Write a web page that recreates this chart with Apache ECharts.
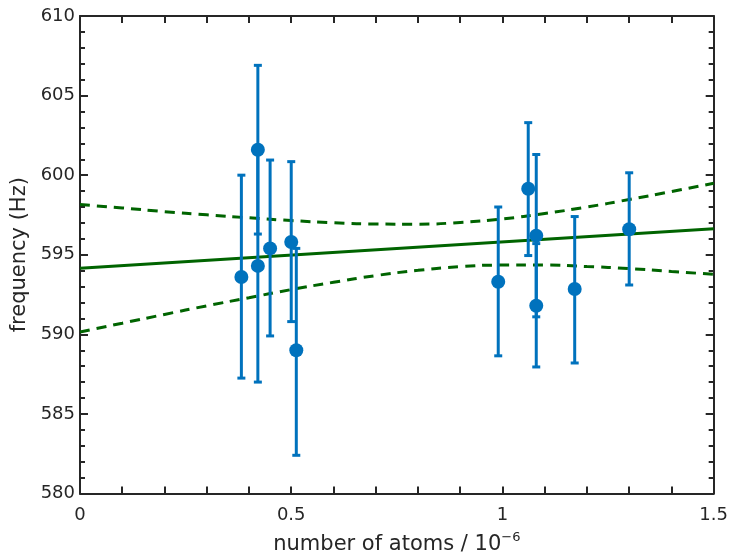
<!DOCTYPE html>
<html>
<head>
<meta charset="utf-8">
<script src="https://cdn.jsdelivr.net/npm/echarts@6/dist/echarts.min.js"></script>
<style>html,body{margin:0;padding:0;background:#fff}#c{width:731px;height:560px}</style>
</head>
<body>
<div id="c"></div>
<script>
// measured points
var atoms = [0.382, 0.421, 0.421, 0.450, 0.500, 0.512, 0.990, 1.061, 1.080, 1.080, 1.171, 1.300];
var freq  = [593.6, 601.6, 594.3, 595.4, 595.8, 589.0, 593.3, 599.15, 596.2, 591.8, 592.85, 596.6];
var errLow  = [587.25, 596.3, 587.0, 589.9, 590.8, 582.4, 588.65, 594.95, 591.1, 587.95, 588.2, 593.1];
var errHigh = [600.0, 606.9, 601.6, 600.95, 600.85, 595.4, 598.0, 603.3, 601.3, 595.7, 597.4, 600.15];
// fit line
var fitX = [0, 1.5];
var fitY = [594.15, 596.63];
// confidence band
var bandX     = [0, 0.1, 0.2, 0.3, 0.4, 0.5, 0.6, 0.7, 0.8, 0.9, 1.0, 1.1, 1.2, 1.3, 1.4, 1.5];
var bandUpper = [598.15, 597.94, 597.71, 597.51, 597.32, 597.15, 597.01, 596.93, 596.92, 597.03, 597.25, 597.59, 598.00, 598.47, 598.97, 599.49];
var bandLower = [590.15, 590.70, 591.25, 591.79, 592.30, 592.81, 593.27, 593.69, 594.02, 594.25, 594.35, 594.35, 594.26, 594.13, 593.95, 593.77];
// axes
var xTickLabels = ['0', '0.5', '1', '1.5'];
var yMin = 580, yMax = 610;

var FONT = 'DejaVu Sans, sans-serif';
var AX = '#262626';
var BLUE = '#0072BD';
var GREEN = '#006400';

function zip(a, b) { return a.map(function (v, i) { return [v, b[i]]; }); }

var chart = echarts.init(document.getElementById('c'), null, {renderer: 'canvas'});

var xCommon = {
  type: 'value', min: 0, max: 1.5, interval: 0.1,
  axisLine: {show: true, onZero: false, lineStyle: {color: AX, width: 2}},
  axisTick: {show: true, inside: true, length: 7, lineStyle: {color: AX, width: 2}},
  splitLine: {show: false}
};
var yCommon = {
  type: 'value', min: yMin, max: yMax, interval: 5,
  axisLine: {show: true, onZero: false, lineStyle: {color: AX, width: 2}},
  axisTick: {show: true, inside: true, length: 8, lineStyle: {color: AX, width: 2}},
  minorTick: {show: true, splitNumber: 5, length: 5, lineStyle: {color: AX, width: 2}},
  splitLine: {show: false}
};

chart.setOption({
  animation: false,
  backgroundColor: '#fff',
  grid: {left: 80, right: 14, top: 16, bottom: 64, containLabel: false},
  xAxis: [
    Object.assign({}, xCommon, {
      position: 'bottom',
      name: 'number of atoms / 10{sup|−6}',
      nameLocation: 'middle', nameGap: 38,
      nameTextStyle: {fontFamily: FONT, fontSize: 21, color: AX,
        rich: {sup: {fontFamily: FONT, fontSize: 13, color: AX, verticalAlign: 'top', padding: [0, 0, 13, 0]}}},
      axisLabel: {show: true, fontFamily: FONT, fontSize: 18, color: AX, margin: 13,
        formatter: function (v) {
          var s = String(Math.round(v * 10) / 10);
          return xTickLabels.indexOf(s) >= 0 ? s : '';
        }}
    }),
    Object.assign({}, xCommon, {position: 'top', axisLabel: {show: false}})
  ],
  yAxis: [
    Object.assign({}, yCommon, {
      position: 'left',
      name: 'frequency (Hz)', nameLocation: 'middle', nameGap: 49,
      nameTextStyle: {fontFamily: FONT, fontSize: 21, color: AX},
      axisLabel: {show: true, fontFamily: FONT, fontSize: 18, color: AX, margin: 5}
    }),
    Object.assign({}, yCommon, {position: 'right', axisLabel: {show: false}})
  ],
  series: [
    {type: 'line', data: zip(bandX, bandUpper), smooth: true, symbol: 'none',
     lineStyle: {color: GREEN, width: 3, type: [10, 7]}, z: 2},
    {type: 'line', data: zip(bandX, bandLower), smooth: true, symbol: 'none',
     lineStyle: {color: GREEN, width: 3, type: [10, 7]}, z: 2},
    {type: 'line', data: zip(fitX, fitY), symbol: 'none',
     lineStyle: {color: GREEN, width: 3}, z: 2},
    {type: 'custom', z: 3,
     data: atoms.map(function (x, i) { return [x, errLow[i], errHigh[i]]; }),
     renderItem: function (params, api) {
       var x = api.value(0);
       var lo = api.coord([x, api.value(1)]);
       var hi = api.coord([x, api.value(2)]);
       var hw = 4;
       var st = {stroke: BLUE, lineWidth: 3};
       return {type: 'group', children: [
         {type: 'line', shape: {x1: lo[0], y1: lo[1], x2: hi[0], y2: hi[1]}, style: st},
         {type: 'line', shape: {x1: lo[0] - hw, y1: lo[1], x2: lo[0] + hw, y2: lo[1]}, style: st},
         {type: 'line', shape: {x1: hi[0] - hw, y1: hi[1], x2: hi[0] + hw, y2: hi[1]}, style: st}
       ]};
     }},
    {type: 'scatter', data: zip(atoms, freq), symbol: 'circle', symbolSize: 14,
     itemStyle: {color: BLUE, opacity: 1}, z: 4}
  ]
});
</script>
</body>
</html>
